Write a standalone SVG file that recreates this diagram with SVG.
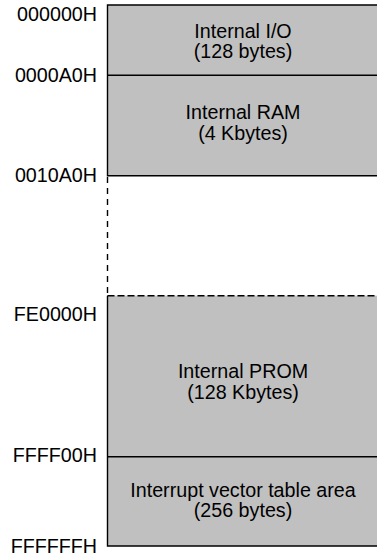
<svg xmlns="http://www.w3.org/2000/svg" width="377" height="558" viewBox="0 0 377 558">
<style>
.addr{font-family:"Liberation Sans",Arial,sans-serif;font-size:19.7px;fill:#000;text-anchor:end}
.lbl{font-family:"Liberation Sans",Arial,sans-serif;font-size:19.7px;fill:#000;text-anchor:middle}
.area{fill:#c0c0c0;stroke:none}
.edge{stroke:#000;stroke-width:1.4;fill:none}
.dash{stroke:#000;stroke-width:1.4;fill:none;stroke-dasharray:6 5}
.dash2{stroke:#000;stroke-width:1.4;fill:none;stroke-dasharray:7 3}
</style>
<g id="io">
<rect class="area" x="107.5" y="5" width="270" height="70.3"/>
<text class="lbl" x="243" y="37.5">Internal I/O</text>
<text class="lbl" x="243" y="58">(128 bytes)</text>
</g>
<g id="ram">
<rect class="area" x="107.5" y="75.3" width="270" height="100.4"/>
<text class="lbl" x="243" y="119">Internal RAM</text>
<text class="lbl" x="243" y="139.5">(4 Kbytes)</text>
</g>
<g id="prom">
<rect class="area" x="107.5" y="295.7" width="270" height="161"/>
<text class="lbl" x="243" y="378">Internal PROM</text>
<text class="lbl" x="243" y="398.5">(128 Kbytes)</text>
</g>
<g id="vector">
<rect class="area" x="107.5" y="456.7" width="270" height="89.3"/>
<text class="lbl" x="243" y="496.5">Interrupt vector table area</text>
<text class="lbl" x="243" y="517">(256 bytes)</text>
</g>
<g id="lines">
<path class="edge" d="M377 5 H107.5 V175.7 H377"/>
<path class="edge" d="M107.5 75.3 H377"/>
<path class="dash" d="M107.5 177 V293"/>
<path class="dash2" d="M107.5 295.7 H377"/>
<path class="edge" d="M107.5 295.7 V546 H377"/>
<path class="edge" d="M107.5 456.7 H377"/>
</g>
<g id="addresses">
<text class="addr" x="97" y="20.7">000000H</text>
<text class="addr" x="97" y="81.7">0000A0H</text>
<text class="addr" x="97" y="181.7">0010A0H</text>
<text class="addr" x="97" y="320.7">FE0000H</text>
<text class="addr" x="97" y="461.5">FFFF00H</text>
<text class="addr" x="97" y="553">FFFFFFH</text>
</g>
</svg>
